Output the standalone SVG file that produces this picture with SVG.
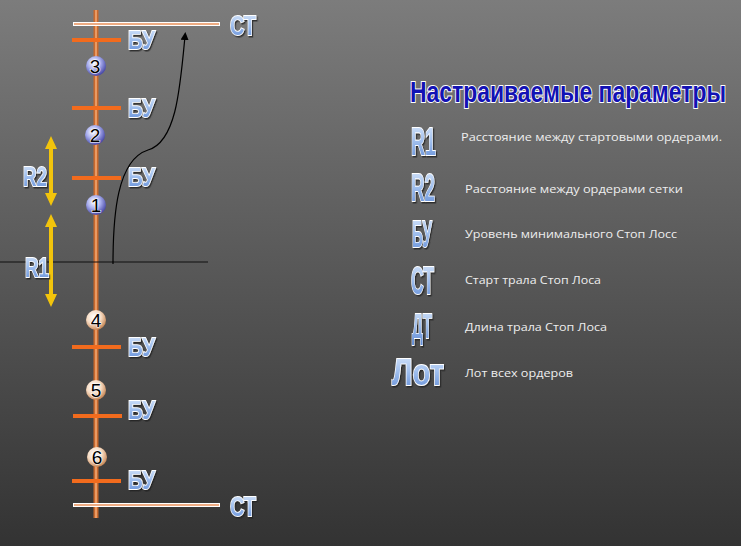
<svg xmlns="http://www.w3.org/2000/svg" width="741" height="546" viewBox="0 0 741 546">
<defs>
<linearGradient id="bg" x1="0" y1="0" x2="0" y2="1">
<stop offset="0" stop-color="#7c7c7c"/>
<stop offset="1" stop-color="#333333"/>
</linearGradient>
<radialGradient id="blueBall" cx="0.4" cy="0.35" r="0.65">
<stop offset="0" stop-color="#ffffff"/>
<stop offset="0.5" stop-color="#aab0ee"/>
<stop offset="1" stop-color="#4a4aa8"/>
</radialGradient>
<radialGradient id="peachBall" cx="0.4" cy="0.35" r="0.65">
<stop offset="0" stop-color="#ffffff"/>
<stop offset="0.55" stop-color="#f6dcc4"/>
<stop offset="1" stop-color="#c98a5a"/>
</radialGradient>
<linearGradient id="lbl" x1="0" y1="0" x2="0" y2="1">
<stop offset="0" stop-color="#dce9fb"/>
<stop offset="0.45" stop-color="#a4c2ef"/>
<stop offset="1" stop-color="#5f8bd6"/>
</linearGradient>
<filter id="sh" x="-20%" y="-20%" width="140%" height="140%">
<feDropShadow dx="1.2" dy="1.5" stdDeviation="0.6" flood-color="#202020" flood-opacity="0.8"/>
</filter>
<marker id="arr" markerWidth="8" markerHeight="8" refX="4" refY="4" orient="auto" markerUnits="userSpaceOnUse">
<path d="M0,0 L8,4 L0,8 Z" fill="#000"/>
</marker>
<style>
.lbl{font-family:"Liberation Sans Narrow","Liberation Sans",Arial,sans-serif;font-weight:bold;fill:url(#lbl);stroke:#ffffff;stroke-width:1.8;paint-order:stroke;filter:url(#sh);}
.num{font-family:"Liberation Sans",Arial,sans-serif;font-size:19px;fill:#000;stroke:#fff;stroke-width:1.2;paint-order:stroke;text-anchor:middle;}
.desc{font-family:"Open Sans","Noto Sans",sans-serif;font-size:11.5px;fill:#eeeeee;}
.bu{stroke:#f26b1d;stroke-width:4;}
.ya{fill:#f2c40c;}
.title{font-family:"Liberation Sans",Arial,sans-serif;font-weight:bold;font-size:29px;fill:#1212b4;stroke:#ffffff;stroke-width:2;paint-order:stroke;}
</style>
</defs>
<rect x="0" y="0" width="741" height="546" fill="url(#bg)"/>

<g id="axis">
<line x1="96" y1="10" x2="96" y2="518" stroke="#c8692e" stroke-width="5"/>
<line x1="96" y1="10" x2="96" y2="518" stroke="#eda06a" stroke-width="1.8"/>
</g>

<g id="st-top">
<line x1="73" y1="24" x2="220" y2="24" stroke="#ffffff" stroke-width="4"/>
<line x1="74" y1="24" x2="219" y2="24" stroke="#e8905a" stroke-width="1.5"/>
<text class="lbl" x="230" y="35" font-size="27" textLength="26" lengthAdjust="spacingAndGlyphs">СТ</text>
</g>
<g id="st-bottom">
<line x1="73" y1="505" x2="220" y2="505" stroke="#ffffff" stroke-width="4"/>
<line x1="74" y1="505" x2="219" y2="505" stroke="#e8905a" stroke-width="1.5"/>
<text class="lbl" x="230" y="516" font-size="27" textLength="26" lengthAdjust="spacingAndGlyphs">СТ</text>
</g>

<g id="bu-3"><line class="bu" x1="72" y1="40" x2="121" y2="40"/><text class="lbl" x="128" y="49" font-size="25" textLength="27" lengthAdjust="spacingAndGlyphs">БУ</text></g>
<g id="bu-2"><line class="bu" x1="72" y1="108" x2="121" y2="108"/><text class="lbl" x="128" y="117" font-size="25" textLength="27" lengthAdjust="spacingAndGlyphs">БУ</text></g>
<g id="bu-1"><line class="bu" x1="72" y1="178" x2="121" y2="178"/><text class="lbl" x="128" y="186" font-size="25" textLength="27" lengthAdjust="spacingAndGlyphs">БУ</text></g>
<g id="bu-4"><line class="bu" x1="72" y1="347" x2="121" y2="347"/><text class="lbl" x="128" y="356" font-size="25" textLength="27" lengthAdjust="spacingAndGlyphs">БУ</text></g>
<g id="bu-5"><line class="bu" x1="73" y1="416" x2="122" y2="416"/><text class="lbl" x="128" y="419" font-size="25" textLength="27" lengthAdjust="spacingAndGlyphs">БУ</text></g>
<g id="bu-6"><line class="bu" x1="72" y1="481" x2="121" y2="481"/><text class="lbl" x="128" y="489" font-size="25" textLength="27" lengthAdjust="spacingAndGlyphs">БУ</text></g>

<g id="order-3"><circle cx="96" cy="66" r="10" fill="url(#blueBall)"/><text class="num" x="95" y="73">3</text></g>
<g id="order-2"><circle cx="95" cy="135" r="10" fill="url(#blueBall)"/><text class="num" x="95" y="142">2</text></g>
<g id="order-1"><circle cx="96" cy="205" r="10" fill="url(#blueBall)"/><text class="num" x="96" y="212">1</text></g>
<g id="order-4"><circle cx="96" cy="320" r="10" fill="url(#peachBall)"/><text class="num" x="96" y="327">4</text></g>
<g id="order-5"><circle cx="96" cy="390" r="10" fill="url(#peachBall)"/><text class="num" x="96" y="397">5</text></g>
<g id="order-6"><circle cx="97" cy="457" r="10" fill="url(#peachBall)"/><text class="num" x="97" y="464">6</text></g>

<g id="price-line">
<line x1="0" y1="262" x2="208" y2="262" stroke="#111" stroke-width="1"/>
</g>

<g id="r2">
<path class="ya" d="M51,136 L57,149 L53,149 L53,193 L57,193 L51,206 L45,193 L49,193 L49,149 L45,149 Z"/>
<text class="lbl" x="23" y="186" font-size="27" textLength="24" lengthAdjust="spacingAndGlyphs">R2</text>
</g>
<g id="r1">
<path class="ya" d="M51,214 L57,227 L53,227 L53,294 L57,294 L51,307 L45,294 L49,294 L49,227 L45,227 Z"/>
<text class="lbl" x="25" y="277" font-size="28" textLength="24" lengthAdjust="spacingAndGlyphs">R1</text>
</g>

<g id="connectors">
<path d="M113,264 C113,215 117,160 148,150 C176,142 180,90 185,36" fill="none" stroke="#000" stroke-width="1.2" marker-end="url(#arr)"/>
</g>

<g id="legend">
<text class="title" transform="translate(410,102) scale(0.79,1)" x="0" y="0" textLength="400" lengthAdjust="spacingAndGlyphs">Настраиваемые параметры</text>
<g id="leg-r1"><text class="lbl" x="411" y="155" font-size="38" textLength="25" lengthAdjust="spacingAndGlyphs">R1</text><text class="desc" x="461" y="141" textLength="261" lengthAdjust="spacingAndGlyphs">Расстояние между стартовыми ордерами.</text></g>
<g id="leg-r2"><text class="lbl" x="411" y="201" font-size="38" textLength="24" lengthAdjust="spacingAndGlyphs">R2</text><text class="desc" x="465" y="193" textLength="218" lengthAdjust="spacingAndGlyphs">Расстояние между ордерами сетки</text></g>
<g id="leg-bu"><text class="lbl" x="412" y="247" font-size="36" textLength="20" lengthAdjust="spacingAndGlyphs">БУ</text><text class="desc" x="465" y="238" textLength="212" lengthAdjust="spacingAndGlyphs">Уровень минимального Стоп Лосс</text></g>
<g id="leg-st"><text class="lbl" x="411" y="294" font-size="38" textLength="23" lengthAdjust="spacingAndGlyphs">СТ</text><text class="desc" x="465" y="284" textLength="136" lengthAdjust="spacingAndGlyphs">Старт трала Стоп Лоса</text></g>
<g id="leg-dt"><text class="lbl" x="412" y="338" font-size="35" textLength="20" lengthAdjust="spacingAndGlyphs">ДТ</text><text class="desc" x="465" y="331" textLength="142" lengthAdjust="spacingAndGlyphs">Длина трала Стоп Лоса</text></g>
<g id="leg-lot"><text class="lbl" x="392" y="385" font-size="36" textLength="52" lengthAdjust="spacingAndGlyphs">Лот</text><text class="desc" x="465" y="377" textLength="108" lengthAdjust="spacingAndGlyphs">Лот всех ордеров</text></g>
</g>
</svg>
